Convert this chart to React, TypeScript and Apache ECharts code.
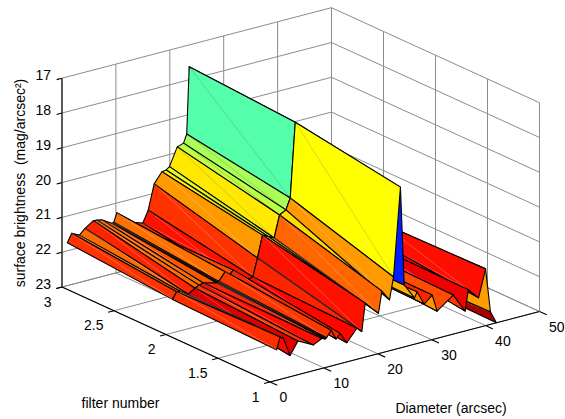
import React, { useEffect, useRef } from "react";
import * as echarts from "echarts";

// Surface rows, ordered from the largest diameter to the smallest
const diamFilter3 = [42, 40.9, 40, 38.7, 36.8, 36.2, 34, 31, 30.1, 28.6, 27.3, 26.8, 24.9, 23.6, 23.14, 22.55, 21.38, 19.94, 19.33, 18.53, 17.1, 15.99, 15, 12.27, 11.15, 10.17, 9.6, 9.42, 9.24, 7.38, 6.45, 5.82, 4.28, 3.22, 1.8, 0.99];
const diamFilter2 = [42, 40.9, 40, 38.7, 36.8, 36.2, 34, 31, 30.1, 28.6, 27.3, 26.8, 24.9, 23.98, 23.05, 22.25, 21.06, 20.07, 18.96, 17.9, 16.97, 16.12, 13.75, 12.45, 11.71, 10.97, 9.8, 9.6, 9.42, 6.93, 6.13, 5.39, 4.15, 2.6, 1.99, 1.21];
const diamFilter1 = [42, 40.9, 40, 38.7, 36.8, 36.2, 34, 31, 30.1, 28.6, 27.3, 26.8, 24.9, 24.2, 22.92, 22.17, 20.76, 20.13, 18.59, 17.66, 17.04, 16.12, 14.26, 13.01, 12.27, 11.34, 10.5, 10.35, 10.22, 9.61, 8.05, 5.2, 3.72, 2.47, 1.86, 1.25];
const magFilter3 = [22.95, 22.7, 21.5, 21.8, 21.8, 22, 21.8, 22, 21.7, 21.85, 21.55, 21.6, 21.3, 17.63, 19.54, 19.78, 19.84, 20.35, 20.42, 20.44, 20.73, 21.44, 21.77, 21.63, 21.64, 21.28, 21.53, 21.54, 21.54, 21.37, 21.34, 21.33, 21.49, 21.64, 21.53, 21.77];
const magFilter2 = [22.95, 22.7, 21.42, 21.82, 21.8, 22, 21.8, 22, 21.7, 21.85, 21.55, 21.6, 21.2, 17.87, 20.01, 20.32, 20.42, 21.04, 20.95, 20.87, 21.49, 22.0, 22.08, 21.65, 21.79, 21.64, 21.87, 21.89, 21.9, 21.8, 21.83, 21.89, 22.01, 21.86, 21.85, 22.04];
const magFilter1 = [23, 22.64, 21.37, 22.15, 21.84, 22.43, 21.88, 22.22, 21.72, 21.92, 21.52, 21.67, 21.22, 18.38, 20.91, 21.54, 21.23, 21.84, 21.6, 21.45, 22.24, 22.11, 22.45, 22.13, 22.26, 21.97, 22.15, 22.17, 22.18, 22.14, 22.26, 22.03, 22.39, 21.84, 21.78, 22.13];
// Colour level (0..1 along the jet colormap) of each facet between two rows
const levelUpper = [0.9, 0.8, 0.86, 0.87, 0.87, 0.83, 0.83, 0.75, 0.83, 0.75, 0.72, 0.7, 0.155, 0.458, 0.54, 0.56, 0.647, 0.6, 0.64, 0.725, 0.825, 0.858, 0.84, 0.8, 0.8, 0.765, 0.78, 0.74, 0.79, 0.77, 0.77, 0.84, 0.77, 0.77, 0.825];
const levelLower = [0.96, 0.72, 0.86, 0.88, 0.89, 0.82, 0.8, 0.73, 0.84, 0.75, 0.72, 0.7, 0.155, 0.625, 0.725, 0.66, 0.775, 0.7, 0.68, 0.858, 0.84, 0.87, 0.87, 0.84, 0.83, 0.82, 0.8, 0.82, 0.84, 0.86, 0.82, 0.905, 0.87, 0.73, 0.83];

const diameterTicks = [0, 10, 20, 30, 40, 50];
const filterTicks = [1, 1.5, 2, 2.5, 3];
const magTicks = [17, 18, 19, 20, 21, 22, 23];

const FONT = "Liberation Sans, Arial, sans-serif";

// Orthographic view of the axes box, in grid units
function project(d: number, f: number, z: number): [number, number] {
  return [
    270 + 5.39 * d - 104 * (f - 1),
    382 - 1.41 * d - 47.5 * (f - 1) - 34.8 * (23 - z),
  ];
}

function jet(t: number): string {
  const ramp = (c: number) => Math.max(0, Math.min(1, 1.5 - Math.abs(4 * t - c)));
  const r = ramp(3), g = ramp(2), b = ramp(1);
  return `rgb(${Math.round(r * 255)},${Math.round(g * 255)},${Math.round(b * 255)})`;
}

type P3 = [number, number, number];
type Seg = { a: P3; b: P3; kind: "grid" | "axis" };

function buildSegments(): Seg[] {
  const segs: Seg[] = [];
  const g = (a: P3, b: P3) => segs.push({ a, b, kind: "grid" });
  const k = (a: P3, b: P3) => segs.push({ a, b, kind: "axis" });
  magTicks.forEach((z) => {
    g([0, 3, z], [50, 3, z]);
    g([50, 3, z], [50, 1, z]);
    k([0, 3, z], [-1, 3, z]);
  });
  diameterTicks.forEach((d) => {
    g([d, 3, 17], [d, 3, 23]);
    g([d, 3, 23], [d, 1, 23]);
    k([d, 1, 23], [d, 0.93, 23]);
  });
  filterTicks.forEach((f) => {
    g([50, f, 17], [50, f, 23]);
    g([50, f, 23], [0, f, 23]);
    k([0, f, 23], [-1.1, f, 23]);
  });
  k([0, 3, 17], [0, 3, 23]);
  k([0, 3, 23], [0, 1, 23]);
  k([0, 1, 23], [50, 1, 23]);
  return segs;
}

type Facet = { a: [number, number]; b: [number, number]; c: [number, number]; d: [number, number]; level: number };

function buildFacets(): Facet[] {
  const out: Facet[] = [];
  for (let i = 0; i < levelUpper.length; i++) {
    out.push({
      a: project(diamFilter3[i], 3, magFilter3[i]),
      b: project(diamFilter2[i], 2, magFilter2[i]),
      c: project(diamFilter2[i + 1], 2, magFilter2[i + 1]),
      d: project(diamFilter3[i + 1], 3, magFilter3[i + 1]),
      level: levelUpper[i],
    });
    out.push({
      a: project(diamFilter2[i], 2, magFilter2[i]),
      b: project(diamFilter1[i], 1, magFilter1[i]),
      c: project(diamFilter1[i + 1], 1, magFilter1[i + 1]),
      d: project(diamFilter2[i + 1], 2, magFilter2[i + 1]),
      level: levelLower[i],
    });
  }
  return out;
}

type Label = { text: string; pos: [number, number]; align: string };

function buildLabels(): Label[] {
  const labels: Label[] = [];
  magTicks.forEach((z) => {
    const p = project(0, 3, z);
    labels.push({ text: String(z), pos: [p[0] - 11, p[1] - 3], align: "right" });
  });
  filterTicks.forEach((f) => {
    const p = project(0, f, 23);
    labels.push({ text: String(f), pos: [p[0] - 10.5, p[1] + 14.5], align: "right" });
  });
  diameterTicks.forEach((d) => {
    const p = project(d, 1, 23);
    labels.push({ text: String(d), pos: [p[0] + 9.5, p[1] + 15], align: "left" });
  });
  return labels;
}

export default function App() {
  const ref = useRef<HTMLDivElement>(null);
  useEffect(() => {
    if (!ref.current) return;
    const chart = echarts.init(ref.current, undefined, { renderer: "svg" });
    const segs = buildSegments();
    const facets = buildFacets();
    const labels = buildLabels();
    chart.setOption({
      animation: false,
      backgroundColor: "#ffffff",
      grid: { left: 0, right: 0, top: 0, bottom: 0 },
      xAxis: { type: "value", min: 0, max: 565, show: false },
      yAxis: { type: "value", min: 0, max: 419, inverse: true, show: false },
      graphic: [
        {
          type: "text",
          x: 20,
          y: 183,
          rotation: Math.PI / 2,
          silent: true,
          style: { text: "surface brightness  (mag/arcsec²)", font: `14px ${FONT}`, fill: "#000", align: "center", verticalAlign: "middle" },
        },
        {
          type: "text",
          x: 120.5,
          y: 403,
          silent: true,
          style: { text: "filter number", font: `14px ${FONT}`, fill: "#000", align: "center", verticalAlign: "middle" },
        },
        {
          type: "text",
          x: 451,
          y: 408,
          silent: true,
          style: { text: "Diameter (arcsec)", font: `14px ${FONT}`, fill: "#000", align: "center", verticalAlign: "middle" },
        },
      ],
      series: [
        {
          type: "custom",
          coordinateSystem: "cartesian2d",
          clip: false,
          silent: true,
          data: segs.map((_, i) => [i]),
          renderItem: (params: any, api: any) => {
            const s = segs[params.dataIndex];
            const p = api.coord(project(s.a[0], s.a[1], s.a[2]));
            const q = api.coord(project(s.b[0], s.b[1], s.b[2]));
            return {
              type: "line",
              shape: { x1: p[0], y1: p[1], x2: q[0], y2: q[1] },
              style: s.kind === "grid" ? { stroke: "#8c8c8c", lineWidth: 1 } : { stroke: "#000", lineWidth: 1.1 },
            };
          },
        },
        {
          type: "custom",
          coordinateSystem: "cartesian2d",
          clip: false,
          silent: true,
          data: facets.map((_, i) => [i]),
          renderItem: (params: any, api: any) => {
            const f = facets[params.dataIndex];
            const pts = [f.a, f.b, f.c, f.d].map((p) => api.coord(p));
            const seam = f.level < 0.7 ? "rgba(60,60,120,0.35)" : "rgba(255,255,255,0.4)";
            return {
              type: "group",
              children: [
                {
                  type: "polygon",
                  shape: { points: pts },
                  style: { fill: jet(f.level), stroke: "#000", lineWidth: 1.1, lineJoin: "round" },
                },
                {
                  type: "line",
                  shape: { x1: pts[0][0], y1: pts[0][1], x2: pts[2][0], y2: pts[2][1] },
                  style: { stroke: seam, lineWidth: 0.6 },
                },
              ],
            };
          },
        },
        {
          type: "custom",
          coordinateSystem: "cartesian2d",
          clip: false,
          silent: true,
          data: labels.map((_, i) => [i]),
          renderItem: (params: any, api: any) => {
            const l = labels[params.dataIndex];
            const p = api.coord(l.pos);
            return {
              type: "text",
              x: p[0],
              y: p[1],
              style: { text: l.text, font: `14px ${FONT}`, fill: "#000", align: l.align, verticalAlign: "middle" },
            };
          },
        },
      ],
    });
    return () => chart.dispose();
  }, []);
  return <div ref={ref} style={{ position: "fixed", left: 0, top: 0, width: 565, height: 419 }} />;
}
